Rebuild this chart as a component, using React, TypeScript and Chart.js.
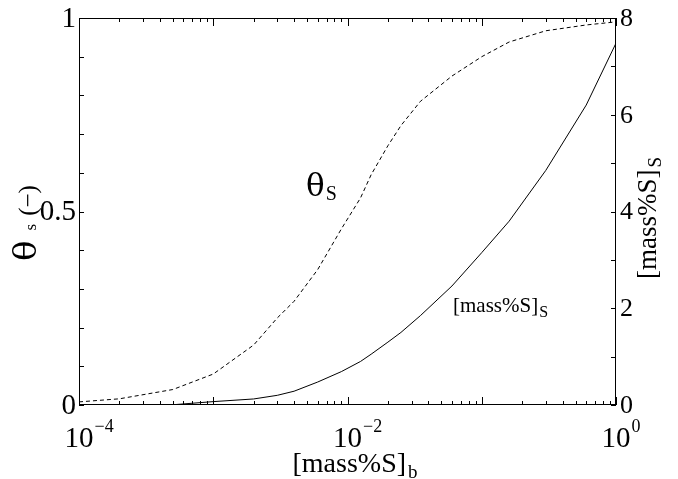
import React, { useEffect, useRef } from "react";
import { Chart, registerables } from "chart.js";

Chart.register(...registerables);

// x: bulk sulfur content [mass%S]_b
const xValues = [1e-4, 2e-4, 5e-4, 1e-3, 2e-3, 3e-3, 4e-3, 6e-3, 9e-3, 1.25e-2, 1.5e-2, 2e-2, 2.5e-2, 3.5e-2, 6e-2, 0.1, 0.16, 0.3, 0.6, 1];
// θs, left axis (dashed)
const thetaValues = [0.008, 0.016, 0.04, 0.08, 0.155, 0.225, 0.268, 0.35, 0.455, 0.535, 0.595, 0.67, 0.722, 0.785, 0.85, 0.9, 0.938, 0.967, 0.982, 0.99];
// [mass%S]s, right axis (solid)
const surfaceValues = [0, 0, 0.005, 0.07, 0.125, 0.2, 0.285, 0.475, 0.69, 0.9, 1.05, 1.3, 1.5, 1.85, 2.46, 3.15, 3.8, 4.85, 6.2, 7.48];

const xMajorExps = [-4, -3, -2, -1, 0];
const xLabelExps = [-4, -2, 0];
const leftTickLabels = [0, 0.5, 1];
const rightTickLabels = [0, 2, 4, 6, 8];

const SERIF = "'Liberation Serif', 'DejaVu Serif', serif";
const THETA_FONT = "'DejaVu Serif', serif";

type Part = { t: string; size: number; dy?: number; sx?: number; gap?: number; font?: string };

function setFont(ctx: CanvasRenderingContext2D, p: Part) {
  ctx.font = `${p.size}px ${p.font || SERIF}`;
}

function drawRich(ctx: CanvasRenderingContext2D, parts: Part[], x: number, y: number, align: "left" | "center" = "left") {
  let total = 0;
  for (const p of parts) {
    setFont(ctx, p);
    total += ctx.measureText(p.t).width * (p.sx || 1) + (p.gap || 0);
  }
  let cx = align === "center" ? x - total / 2 : x;
  ctx.textAlign = "left";
  ctx.textBaseline = "alphabetic";
  for (const p of parts) {
    cx += p.gap || 0;
    setFont(ctx, p);
    const w = ctx.measureText(p.t).width * (p.sx || 1);
    ctx.save();
    ctx.translate(cx, y + (p.dy || 0));
    ctx.scale(p.sx || 1, 1);
    ctx.fillText(p.t, 0, 0);
    ctx.restore();
    cx += w;
  }
}

const framePlugin = {
  id: "framePlugin",
  afterDraw(chart: any) {
    const ctx: CanvasRenderingContext2D = chart.ctx;
    const { left, right, top, bottom } = chart.chartArea;
    const xs = chart.scales.x;
    const ys = chart.scales.y;
    const y1 = chart.scales.y1;
    ctx.save();
    ctx.strokeStyle = "#000";
    ctx.fillStyle = "#000";
    ctx.lineWidth = 1;
    ctx.strokeRect(left + 0.5, top + 0.5, right - left - 1, bottom - top - 1);

    ctx.beginPath();
    for (const e of xMajorExps) {
      const base = Math.pow(10, e);
      const px = Math.round(xs.getPixelForValue(base)) + 0.5;
      ctx.moveTo(px, bottom); ctx.lineTo(px, bottom - 8);
      ctx.moveTo(px, top); ctx.lineTo(px, top + 8);
      if (e < 0) {
        for (let m = 2; m <= 9; m++) {
          const mx = Math.round(xs.getPixelForValue(m * base)) + 0.5;
          ctx.moveTo(mx, bottom); ctx.lineTo(mx, bottom - 4);
          ctx.moveTo(mx, top); ctx.lineTo(mx, top + 4);
        }
      }
    }
    for (let i = 0; i <= 10; i++) {
      const py = Math.round(ys.getPixelForValue(i / 10)) + 0.5;
      ctx.moveTo(left, py); ctx.lineTo(left + 5, py);
    }
    for (let i = 0; i <= 8; i++) {
      const py = Math.round(y1.getPixelForValue(i)) + 0.5;
      ctx.moveTo(right, py); ctx.lineTo(right - 5, py);
    }
    ctx.stroke();

    // left tick labels
    ctx.font = `29px ${SERIF}`;
    ctx.textAlign = "right";
    ctx.textBaseline = "middle";
    for (const v of leftTickLabels) {
      ctx.fillText(String(v), left - 3, ys.getPixelForValue(v) + 1);
    }
    // right tick labels
    ctx.font = `26px ${SERIF}`;
    ctx.textAlign = "left";
    for (const v of rightTickLabels) {
      ctx.fillText(String(v), right + 4, y1.getPixelForValue(v) + 1);
    }
    // x tick labels
    for (const e of xLabelExps) {
      const px = xs.getPixelForValue(Math.pow(10, e));
      ctx.font = `29px ${SERIF}`;
      ctx.textAlign = "center";
      ctx.textBaseline = "alphabetic";
      ctx.fillText("10", px, 447);
      const w = ctx.measureText("10").width;
      ctx.font = `18px ${SERIF}`;
      ctx.textAlign = "left";
      ctx.fillText(e < 0 ? "\u2212" + String(-e) : String(e), px + w / 2 + 1, 432);
    }

    // x axis title
    drawRich(ctx, [{ t: "[mass%S]", size: 28 }, { t: "b", size: 19, dy: 6, gap: 2 }], 355, 472, "center");

    // left axis title (rotated)
    ctx.save();
    ctx.translate(35.5, 223);
    ctx.rotate(-Math.PI / 2);
    drawRich(ctx, [
      { t: "\u03b8", size: 31, font: THETA_FONT, sx: 1.1 },
      { t: "s", size: 17, gap: 10 },
      { t: "(\u2212)", size: 25, gap: 8 },
    ], 0, 0, "center");
    ctx.restore();

    // right axis title (rotated)
    ctx.save();
    ctx.translate(656, 218);
    ctx.rotate(-Math.PI / 2);
    drawRich(ctx, [{ t: "[mass%S]", size: 27 }, { t: "S", size: 19, dy: 5, gap: 2 }], 0, 0, "center");
    ctx.restore();

    // in-plot labels
    drawRich(ctx, [{ t: "\u03b8", size: 31, font: THETA_FONT }, { t: "S", size: 20, dy: 4, gap: 1 }], 306, 196);
    drawRich(ctx, [{ t: "[mass%S]", size: 21 }, { t: "S", size: 16, dy: 5, gap: 1 }], 453, 312);
    ctx.restore();
  },
};

export default function App() {
  const ref = useRef<HTMLCanvasElement>(null);
  useEffect(() => {
    if (!ref.current) return;
    const chart = new Chart(ref.current, {
      type: "line",
      data: {
        datasets: [
          {
            label: "θs",
            data: xValues.map((x, i) => ({ x, y: thetaValues[i] })),
            yAxisID: "y",
            borderColor: "#000",
            borderWidth: 1,
            borderDash: [4, 3],
            pointRadius: 0,
            fill: false,
            tension: 0,
          },
          {
            label: "[mass%S]s",
            data: xValues.map((x, i) => ({ x, y: surfaceValues[i] })),
            yAxisID: "y1",
            borderColor: "#000",
            borderWidth: 1,
            pointRadius: 0,
            fill: false,
            tension: 0,
          },
        ],
      },
      options: {
        responsive: false,
        animation: false,
        layout: { padding: { top: 18, left: 0, right: 0, bottom: 0 } },
        plugins: { legend: { display: false }, tooltip: { enabled: false } },
        scales: {
          x: {
            type: "logarithmic",
            min: 1e-4,
            max: 1,
            ticks: { display: false },
            grid: { display: false },
            border: { display: false },
            afterFit: (s: any) => { s.height = 74; },
          },
          y: {
            type: "linear",
            position: "left",
            min: 0,
            max: 1,
            ticks: { display: false },
            grid: { display: false },
            border: { display: false },
            afterFit: (s: any) => { s.width = 79; },
          },
          y1: {
            type: "linear",
            position: "right",
            min: 0,
            max: 8,
            ticks: { display: false },
            grid: { display: false },
            border: { display: false },
            afterFit: (s: any) => { s.width = 62; },
          },
        },
      },
      plugins: [framePlugin],
    } as any);
    return () => chart.destroy();
  }, []);
  return (
    <div style={{ position: "absolute", left: 0, top: 0, width: 678, height: 479, background: "#fff" }}>
      <canvas ref={ref} width={678} height={479} style={{ width: 678, height: 479, display: "block" }} />
    </div>
  );
}
